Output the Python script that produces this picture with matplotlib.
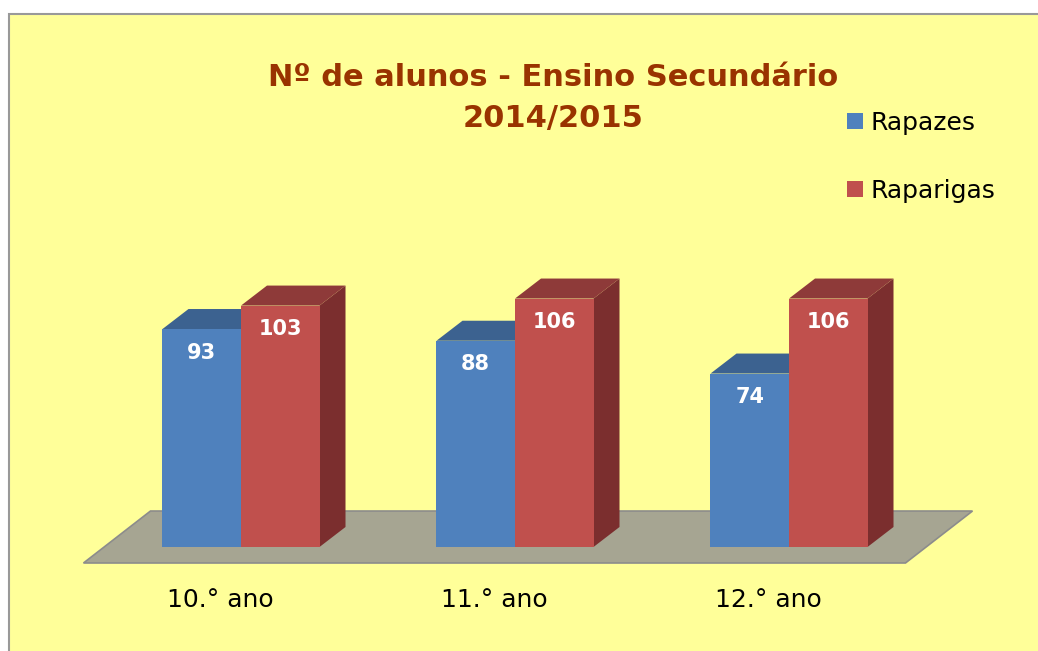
import matplotlib.pyplot as plt
from matplotlib.patches import Polygon, Rectangle, Patch

# data
categories = ['10.° ano', '11.° ano', '12.° ano']
rapazes = [93, 88, 74]
raparigas = [103, 106, 106]
series_names = ['Rapazes', 'Raparigas']

# colours (front, top, side)
blue = ('#4F81BD', '#3C6290', '#345679')
red = ('#C0504D', '#8E3A39', '#7B2E2E')
floor_col = '#A6A592'
bg = '#FFFF99'

fig = plt.figure(figsize=(10.38, 6.51), dpi=100)
fig.patch.set_facecolor('white')
fig.patches.append(Rectangle((9 / 1038, -0.01), 1.05, 1 - 14 / 651 + 0.01,
                             transform=fig.transFigure, facecolor=bg,
                             edgecolor='#999999', linewidth=1.5, zorder=-5))

ax = fig.add_axes([0, 0, 1, 1])
ax.set_xlim(-241 / 274, 797 / 274)
ax.set_ylim(-104 / 2.344, 547 / 2.344)
ax.axis('off')
ax.patch.set_alpha(0)

w = 0.2865            # bar width
dx, dy = 0.0949, 8.53  # bar depth
fdx, fdy = 0.2445, 22.18  # floor depth
fx0 = -(fdx - dx) / 2
fy0 = -(fdy - dy) / 2

# floor
n = len(categories)
floor = [(-0.5 + fx0, fy0), (n - 0.5 + fx0, fy0),
         (n - 0.5 + fx0 + fdx, fy0 + fdy), (-0.5 + fx0 + fdx, fy0 + fdy)]
ax.add_patch(Polygon(floor, closed=True, facecolor=floor_col,
                     edgecolor='#8C8C8C', linewidth=1.2))


def bar3d(x0, h, cols):
    front, top, side = cols
    ax.add_patch(Polygon([(x0 + w, 0), (x0 + w + dx, dy), (x0 + w + dx, h + dy), (x0 + w, h)],
                         facecolor=side, edgecolor='none'))
    ax.add_patch(Polygon([(x0, h), (x0 + w, h), (x0 + w + dx, h + dy), (x0 + dx, h + dy)],
                         facecolor=top, edgecolor='none'))
    ax.add_patch(Rectangle((x0, 0), w, h, facecolor=front, edgecolor='none'))
    ax.annotate(str(h), (x0 + w / 2, h), xytext=(0, -17), textcoords='offset points',
                ha='center', va='center', color='white', fontsize=15, fontweight='bold')


for i in range(n):
    bar3d(i - w, rapazes[i], blue)
    bar3d(i, raparigas[i], red)
    ax.annotate(categories[i], (i + fx0, fy0), xytext=(0, -27), textcoords='offset points',
                ha='center', va='center', fontsize=18, color='black')

fig.text(553 / 1038, 1 - 77 / 651, 'Nº de alunos - Ensino Secundário',
         ha='center', va='center', fontsize=22, fontweight='bold', color='#993300')
fig.text(553 / 1038, 1 - 119 / 651, '2014/2015',
         ha='center', va='center', fontsize=22, fontweight='bold', color='#993300')

handles = [Patch(facecolor=blue[0]), Patch(facecolor=red[0])]
fig.legend(handles, series_names, loc='upper left', bbox_to_anchor=(847 / 1038, 1 - 111 / 651),
           frameon=False, fontsize=18, handlelength=0.64, handleheight=0.64,
           handletextpad=0.3, labelspacing=1.75, borderpad=0, borderaxespad=0)

fig.savefig('out.png', dpi=100, facecolor=fig.get_facecolor())
